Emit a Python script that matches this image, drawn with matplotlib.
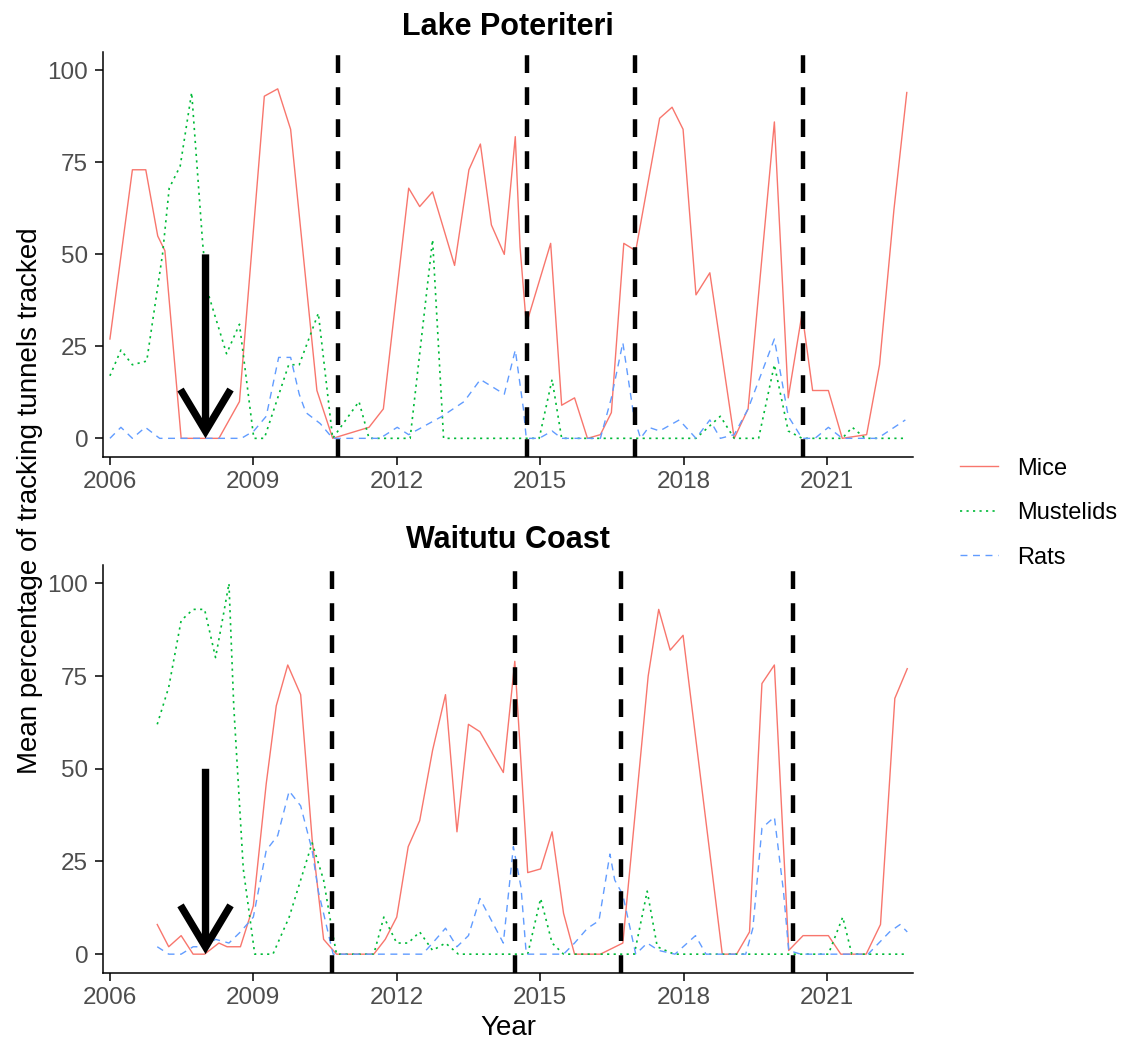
import matplotlib
matplotlib.use("Agg")
import matplotlib.pyplot as plt
from matplotlib.lines import Line2D

plt.rcParams['font.family'] = ['Liberation Sans', 'DejaVu Sans']

# Lake Poteriteri
lp_mice_year = [2006.0, 2006.47, 2006.75, 2007.0, 2007.15, 2007.49, 2008.28, 2008.71, 2009.23, 2009.51,
                2009.78, 2010.33, 2010.66, 2011.42, 2011.72, 2012.25, 2012.48, 2012.75, 2013.21, 2013.51,
                2013.75, 2013.98, 2014.25, 2014.48, 2014.58, 2014.71, 2015.22, 2015.45, 2015.72, 2015.99,
                2016.26, 2016.49, 2016.75, 2017.0, 2017.5, 2017.76, 2017.99, 2018.26, 2018.55, 2019.06,
                2019.35, 2019.9, 2020.19, 2020.48, 2020.7, 2021.03, 2021.32, 2021.83, 2022.1, 2022.4, 2022.67]
lp_mice = [27, 73, 73, 55, 51, 0, 0, 10, 93, 95,
           84, 13, 0, 3, 8, 68, 63, 67, 47, 73,
           80, 58, 50, 82, 52, 31, 53, 9, 11, 0,
           1, 7, 53, 51, 87, 90, 84, 39, 45, 0,
           8, 86, 11, 34, 13, 13, 0, 1, 20, 62, 94]

lp_must_year = [2006.0, 2006.23, 2006.47, 2006.77, 2007.1, 2007.24, 2007.47, 2007.71, 2007.94, 2008.04,
                2008.44, 2008.71, 2009.01, 2009.23, 2009.74, 2009.96, 2010.36, 2010.66, 2011.21, 2011.42,
                2012.28, 2012.75, 2012.98, 2014.98, 2015.25, 2015.45, 2018.26, 2018.77, 2019.06, 2019.57,
                2019.9, 2020.19, 2020.48, 2021.32, 2021.53, 2021.8, 2022.6]
lp_must = [17, 24, 20, 21, 50, 68, 74, 94, 53, 40,
           23, 31, 0, 0, 20, 20, 34, 0, 10, 0,
           0, 54, 0, 0, 16, 0, 0, 6, 0, 0,
           20, 2, 0, 0, 3, 0, 0]

lp_rats_year = [2006.0, 2006.23, 2006.47, 2006.74, 2007.04, 2008.75, 2009.01, 2009.27, 2009.53, 2009.78,
                2009.96, 2010.1, 2010.4, 2010.66, 2011.65, 2012.01, 2012.25, 2012.95, 2013.41, 2013.75,
                2014.25, 2014.48, 2014.65, 2014.71, 2014.98, 2015.25, 2015.45, 2016.26, 2016.49, 2016.73,
                2016.96, 2017.1, 2017.27, 2017.5, 2017.91, 2018.26, 2018.55, 2018.77, 2019.06, 2019.35,
                2019.9, 2020.19, 2020.48, 2020.75, 2021.03, 2021.32, 2022.06, 2022.64]
lp_rats = [0, 3, 0, 3, 0, 0, 2, 6, 22, 22,
           12, 7, 4, 0, 0, 3, 1, 6, 10, 16,
           12, 24, 8, 0, 0, 2, 0, 0, 11, 26,
           6, 0, 3, 2, 5, 0, 5, 0, 1, 8,
           27, 6, 0, 0, 3, 0, 0, 5]

lp_events = [2010.77, 2014.72, 2016.98, 2020.5]

# Waitutu Coast
wc_mice_year = [2006.99, 2007.23, 2007.49, 2007.74, 2007.98, 2008.28, 2008.45, 2008.73, 2009.0, 2009.27,
                2009.48, 2009.72, 2009.99, 2010.23, 2010.47, 2010.74, 2011.52, 2011.76, 2012.0, 2012.24,
                2012.48, 2012.75, 2013.02, 2013.26, 2013.5, 2013.74, 2014.23, 2014.47, 2014.74, 2015.01,
                2015.25, 2015.49, 2015.72, 2016.26, 2016.73, 2017.26, 2017.48, 2017.72, 2017.99, 2018.81,
                2019.11, 2019.38, 2019.64, 2019.9, 2020.2, 2020.5, 2021.03, 2021.29, 2021.82, 2022.12,
                2022.42, 2022.68]
wc_mice = [8, 2, 5, 0, 0, 3, 2, 2, 13, 46,
           67, 78, 70, 31, 4, 0, 0, 4, 10, 29,
           36, 55, 70, 33, 62, 60, 49, 79, 22, 23,
           33, 11, 0, 0, 3, 75, 93, 82, 86, 0,
           0, 6, 73, 78, 1, 5, 5, 0, 0, 8,
           69, 77]

wc_must_year = [2006.99, 2007.23, 2007.49, 2007.74, 2007.98, 2008.21, 2008.38, 2008.49, 2008.59, 2008.79,
                2009.03, 2009.41, 2009.75, 2010.23, 2010.47, 2010.64, 2010.74, 2011.52, 2011.73, 2012.0,
                2012.24, 2012.48, 2012.75, 2013.02, 2013.29, 2014.74, 2015.01, 2015.25, 2015.49, 2016.97,
                2017.24, 2017.45, 2017.8, 2021.03, 2021.33, 2021.52, 2022.68]
wc_must = [62, 72, 90, 93, 93, 80, 92, 100, 67, 23,
           0, 0, 10, 30, 20, 7, 0, 0, 10, 3,
           3, 6, 1, 3, 0, 0, 15, 3, 0, 0,
           17, 2, 0, 0, 10, 0, 0]

wc_rats_year = [2006.99, 2007.23, 2007.49, 2007.74, 2007.98, 2008.21, 2008.49, 2008.73, 2009.0, 2009.27,
                2009.51, 2009.75, 2009.99, 2010.23, 2010.36, 2010.67, 2012.54, 2012.75, 2013.02, 2013.26,
                2013.5, 2013.74, 2014.23, 2014.44, 2014.6, 2014.71, 2015.49, 2015.72, 2015.99, 2016.23,
                2016.46, 2016.56, 2016.73, 2017.0, 2017.24, 2017.48, 2017.82, 2018.25, 2018.47, 2019.3,
                2019.45, 2019.64, 2019.9, 2020.09, 2020.2, 2020.45, 2021.86, 2022.31, 2022.53, 2022.68]
wc_rats = [2, 0, 0, 2, 2, 4, 3, 6, 10, 28,
           32, 44, 40, 28, 17, 0, 0, 3, 7, 2,
           5, 15, 3, 29, 18, 0, 0, 3, 7, 9,
           27, 20, 16, 0, 3, 1, 0, 5, 0, 0,
           7, 34, 37, 17, 1, 0, 0, 6, 8, 6]

wc_events = [2010.64, 2014.47, 2016.7, 2020.28]

arrow_year = 2008
arrow_top = 50

year_ticks = [2006, 2009, 2012, 2015, 2018, 2021]
pct_ticks = [0, 25, 50, 75, 100]

col_mice = '#F8766D'
col_must = '#00BA38'
col_rats = '#619CFF'
dotted = (0, (1.3, 2.6))
dashed = (0, (5, 4))

fig = plt.figure(figsize=(11.23, 10.43), dpi=100)
ax1 = fig.add_axes([0.0915, 0.5621, 0.7215, 0.388])
ax2 = fig.add_axes([0.0915, 0.0674, 0.7215, 0.391])

panels = [
    (ax1, 'Lake Poteriteri', lp_mice_year, lp_mice, lp_must_year, lp_must, lp_rats_year, lp_rats, lp_events),
    (ax2, 'Waitutu Coast', wc_mice_year, wc_mice, wc_must_year, wc_must, wc_rats_year, wc_rats, wc_events),
]

for ax, title, my, m, sy, s, ry, r, ev in panels:
    ax.plot(my, m, color=col_mice, lw=1.0)
    ax.plot(sy, s, color=col_must, lw=1.2, linestyle=dotted)
    ax.plot(ry, r, color=col_rats, lw=1.0, linestyle=dashed)
    for x in ev:
        ax.axvline(x, color='black', lw=3.2, linestyle=(0, (4, 3.2)), zorder=5)
    ax.annotate('', xy=(arrow_year, 0), xytext=(arrow_year, arrow_top),
                arrowprops=dict(arrowstyle='->,head_length=1.5,head_width=0.9', lw=5.3,
                                color='black', shrinkA=0, shrinkB=0, mutation_scale=20,
                                joinstyle='miter', capstyle='butt'),
                zorder=6)
    ax.set_xlim(2005.85, 2022.8)
    ax.set_ylim(-5, 105)
    ax.set_xticks(year_ticks)
    ax.set_yticks(pct_ticks)
    ax.tick_params(labelsize=17.5, labelcolor='#4D4D4D', length=5.5, width=1.1, pad=5)
    for side in ['top', 'right']:
        ax.spines[side].set_visible(False)
    for side in ['left', 'bottom']:
        ax.spines[side].set_linewidth(1.1)
    ax.set_title(title, fontsize=22, fontweight='bold', pad=12)

fig.text(0.027, 0.52, 'Mean percentage of tracking tunnels tracked', rotation=90,
         ha='center', va='center', fontsize=20)
fig.text(0.4525, 1 - 1028 / 1043, 'Year', ha='center', va='center', fontsize=20)

handles = [
    Line2D([], [], color=col_mice, lw=1.0),
    Line2D([], [], color=col_must, lw=1.2, linestyle=dotted),
    Line2D([], [], color=col_rats, lw=1.0, linestyle=dashed),
]
fig.legend(handles, ['Mice', 'Mustelids', 'Rats'], loc='center left',
           bbox_to_anchor=(0.855, 0.508), frameon=False, fontsize=17,
           handlelength=1.6, handletextpad=0.8, labelspacing=0.95,
           borderpad=0, borderaxespad=0)

plt.savefig('out.png', dpi=100)
